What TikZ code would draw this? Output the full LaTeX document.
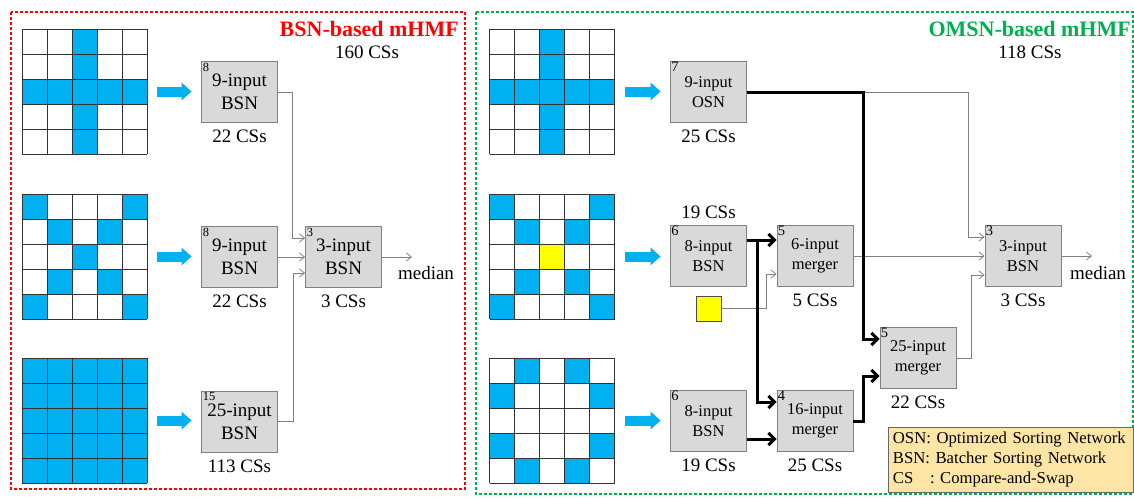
\documentclass[tikz,border=0pt]{standalone}
\usepackage{fontspec}
\setmainfont{Liberation Serif}
\usetikzlibrary{arrows.meta,positioning}

\definecolor{pixblue}{RGB}{0,176,240}
\definecolor{pixyellow}{RGB}{255,255,0}
\definecolor{boxgray}{RGB}{217,217,217}
\definecolor{boxline}{RGB}{128,128,128}
\definecolor{wire}{RGB}{128,128,128}
\definecolor{redline}{RGB}{255,0,0}
\definecolor{greenline}{RGB}{0,176,80}
\definecolor{keyfill}{RGB}{252,229,165}

\newcommand{\pixcells}[2]{\foreach \c/\r in {#2}
  \fill[pixblue] ([shift={({(\c-1)*25},{(\r-1)*25})}]#1.north west) rectangle ++(25,25);}
\newcommand{\pixlines}[1]{\foreach \i in {0,25,...,125} {
  \draw[gridline] ([xshift=\i pt]#1.north west) -- ([xshift=\i pt]#1.south west);
  \draw[gridline] ([yshift=-\i pt]#1.north west) -- ([yshift=-\i pt]#1.north east);}}

\begin{document}
\begin{tikzpicture}[x=1pt,y=-1pt,
    box/.style={draw=boxline,fill=boxgray,line width=0.8pt,minimum width=76pt,minimum height=61pt,
        align=center,inner sep=0pt,font=\fontsize{19}{23}\selectfont},
    boxr/.style={box,font=\fontsize{16.5}{20}\selectfont},
    idx/.style={anchor=north west,inner sep=1.5pt,font=\fontsize{12.5}{14}\selectfont},
    idxr/.style={idx,inner sep=1pt,font=\fontsize{14.5}{16}\selectfont},
    cnt/.style={inner sep=0pt,font=\fontsize{19}{22}\selectfont},
    title/.style={anchor=east,inner sep=0pt,font=\bfseries\fontsize{22}{26}\selectfont},
    gridnode/.style={minimum size=125pt,inner sep=0pt,outer sep=0pt},
    gridline/.style={draw=black!80,line width=0.8pt},
    fat/.style={draw=pixblue,line width=10pt,-{Triangle[length=10pt,width=17pt]},shorten <=10pt,shorten >=9.5pt},
    arr/.style={draw=wire,line width=0.8pt,-{Straight Barb[length=5pt,width=8pt]}},
    bus/.style={line width=3pt,-{Straight Barb[length=6pt,width=12pt]}},
    panel/.style={line width=1.2pt,dash pattern=on 3pt off 2pt}
]
\useasboundingbox[fill=white] (0,0) rectangle (1134,498);

% BSN-based
\draw[panel,draw=redline] (11,12) rectangle (465,489);
\node[title,text=redline] (titleL) at (459,29) {BSN-based mHMF};
\node[cnt] (totalL) at (367,52) {160 CSs};

\node[gridnode] (gA) at (84.5,91.5) {};
\node[gridnode] (gB) at (84.5,256.5) {};
\node[gridnode] (gC) at (84.5,420.5) {};
\pixcells{gA}{3/1,3/2,1/3,2/3,3/3,4/3,5/3,3/4,3/5}
\pixcells{gB}{1/1,5/1,2/2,4/2,3/3,2/4,4/4,1/5,5/5}
\fill[pixblue] (gC.north west) rectangle (gC.south east);
\pixlines{gA}
\pixlines{gB}
\pixlines{gC}

\node[box,label={[idx]north west:8}] (b1) at (239.5,92) {9-input\\BSN};
\node[box,label={[idx]north west:8}] (b2) at (239.5,257) {9-input\\BSN};
\node[box,label={[idx]north west:15}] (b3) at (239.5,421.5) {25-input\\BSN};
\node[box,label={[idx]north west:3}] (bL) at (343.5,257) {3-input\\BSN};
\node[cnt,below=7pt of b1] (c1) {22 CSs};
\node[cnt,below=7pt of b2] (c2) {22 CSs};
\node[cnt,below=7pt of b3] (c3) {113 CSs};
\node[cnt,below=7pt of bL] (cL) {3 CSs};
\coordinate (outL) at (412,257);
\node[cnt] (medL) at (426,273) {median};

\draw[fat] (gA.east) -- (gA.east -| b1.west);
\draw[fat] (gB.east) -- (gB.east -| b2.west);
\draw[fat] (gC.east) -- (gC.east -| b3.west);
\draw[arr] (b1.east) -- ++(14,0) |- ([yshift=19pt]bL.west);
\draw[arr] (b2.east) -- (bL.west);
\draw[arr] (b3.east) -- ++(15,0) |- ([yshift=-16pt]bL.west);
\draw[arr] (bL.east) -- (outL);

% OMSN-based
\draw[panel,draw=greenline] (476,12) rectangle (1133,494);
\node[title,text=greenline] (titleR) at (1131,29) {OMSN-based mHMF};
\node[cnt] (totalR) at (1030,52) {118 CSs};

\node[gridnode] (gD) at (552,91.5) {};
\node[gridnode] (gE) at (552,256.5) {};
\node[gridnode] (gF) at (552,420.5) {};
\pixcells{gD}{3/1,3/2,1/3,2/3,3/3,4/3,5/3,3/4,3/5}
\pixcells{gE}{1/1,5/1,2/2,4/2,2/4,4/4,1/5,5/5}
\fill[pixyellow] ([shift={(50,50)}]gE.north west) rectangle ++(25,25);
\pixcells{gF}{2/1,4/1,1/2,5/2,1/4,5/4,2/5,4/5}
\pixlines{gD}
\pixlines{gE}
\pixlines{gF}

\node[boxr,label={[idxr]north west:7}] (osn) at (708.5,92) {9-input\\OSN};
\node[boxr,label={[idxr]north west:6}] (bsnA) at (708.5,256) {8-input\\BSN};
\node[boxr,label={[idxr]north west:6}] (bsnB) at (708.5,421) {8-input\\BSN};
\node[boxr,label={[idxr]north west:5}] (mgA) at (815,256) {6-input\\merger};
\node[boxr,label={[idxr]north west:4}] (mgB) at (815,421) {16-input\\merger};
\node[boxr,label={[idxr]north west:5}] (mgC) at (918,358) {25-input\\merger};
\node[boxr,label={[idxr]north west:3}] (bsnR) at (1023,256) {3-input\\BSN};
\node[draw=black!70,fill=pixyellow,line width=0.8pt,minimum size=25pt,inner sep=0pt] (yel) at (708.5,308.5) {};
\node[cnt,below=7pt of osn] (cO) {25 CSs};
\node[cnt,above=6pt of bsnA] (cA) {19 CSs};
\node[cnt,below=7pt of bsnB] (cB) {19 CSs};
\node[cnt,below=7pt of mgA] (cmA) {5 CSs};
\node[cnt,below=7pt of mgB] (cmB) {25 CSs};
\node[cnt,below=7pt of mgC] (cmC) {22 CSs};
\node[cnt,below=7pt of bsnR] (cR) {3 CSs};
\coordinate (tee) at (757,240);
\coordinate (osnturn) at (863,92);
\coordinate (outR) at (1092,256);
\node[cnt] (medR) at (1098,273) {median};

\draw[fat] (gD.east) -- (gD.east -| osn.west);
\draw[fat] (gE.east) -- (gE.east -| bsnA.west);
\draw[fat] (gF.east) -- (gF.east -| bsnB.west);
\draw[arr] (osnturn) -| ([xshift=-16pt,yshift=19pt]bsnR.west) -- ([yshift=19pt]bsnR.west);
\draw[arr] (yel.east) -- ++(45,0) |- ([yshift=-18pt]mgA.west);
\draw[arr] (mgA.east) -- (bsnR.west);
\draw[arr] (mgC.east) -- ++(15,0) |- ([yshift=-19pt]bsnR.west);
\draw[arr] (bsnR.east) -- (outR);
\draw[bus] ([yshift=16pt]bsnA.east) -- ([yshift=16pt]mgA.west);
\draw[bus] (tee) |- ([yshift=19pt]mgB.west);
\draw[bus] ([yshift=-18pt]bsnB.east) -- ([yshift=-18pt]mgB.west);
\draw[bus] (osn.east) -- (osnturn) |- ([yshift=19pt]mgC.west);
\draw[bus] (mgB.east) -- ++(10,0) |- ([yshift=-18pt]mgC.west);

\node[draw=black!60,fill=keyfill,line width=0.8pt,anchor=north west,text width=236pt,inner sep=4.5pt,
    minimum height=65pt,align=left,font=\fontsize{16.7}{20}\selectfont] (key) at (888,427)
    {OSN: Optimized Sorting Network\\BSN: Batcher Sorting Network\\CS\ \ \ : Compare-and-Swap};
\end{tikzpicture}
\end{document}
